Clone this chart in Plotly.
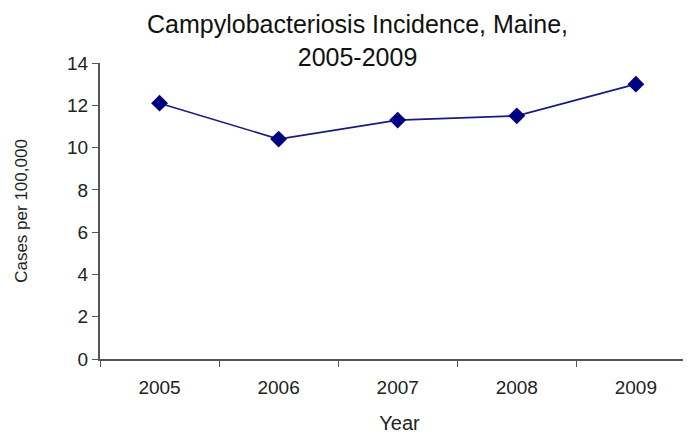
import plotly.graph_objects as go

years = ["2005", "2006", "2007", "2008", "2009"]
rates = [12.1, 10.4, 11.3, 11.5, 13.0]
y_ticks = [0, 2, 4, 6, 8, 10, 12, 14]

fig = go.Figure()
fig.add_trace(go.Scatter(
    x=years, y=rates, mode="lines+markers",
    line=dict(color="#1a1a80", width=1.6),
    marker=dict(symbol="diamond", size=13, color="#000080"),
))

FONT = "Liberation Sans, Arial, sans-serif"
tick_font = dict(family=FONT, size=19, color="#222")
fig.update_layout(
    width=691, height=437,
    paper_bgcolor="white", plot_bgcolor="white",
    margin=dict(l=92, r=0, t=55, b=86),
    showlegend=False,
    font=tick_font,
)
# title as an annotation so both lines stay inside the page
fig.add_annotation(
    text="Campylobacteriosis Incidence, Maine,<br>2005-2009",
    xref="paper", yref="paper", x=0.43, y=1.186,
    xanchor="center", yanchor="top", showarrow=False,
    font=dict(family=FONT, size=25, color="#111"),
)
fig.update_xaxes(
    type="category", range=[-0.5, 4.53],
    showline=True, linecolor="#555", linewidth=2,
    ticks="outside", tickson="boundaries", ticklen=6, tickcolor="#555",
    ticklabelstandoff=10,
    showgrid=False, tickfont=tick_font,
    title=dict(text="Year", font=dict(family=FONT, size=20, color="#222"), standoff=19),
)
fig.update_yaxes(
    range=[0, 14], tickvals=y_ticks,
    showline=True, linecolor="#555", linewidth=2,
    ticks="outside", ticklen=6, tickcolor="#555",
    showgrid=False, zeroline=False, tickfont=tick_font,
    title=dict(text="Cases per 100,000", font=dict(family=FONT, size=17, color="#222"), standoff=35),
)

fig.write_html("out.html")
